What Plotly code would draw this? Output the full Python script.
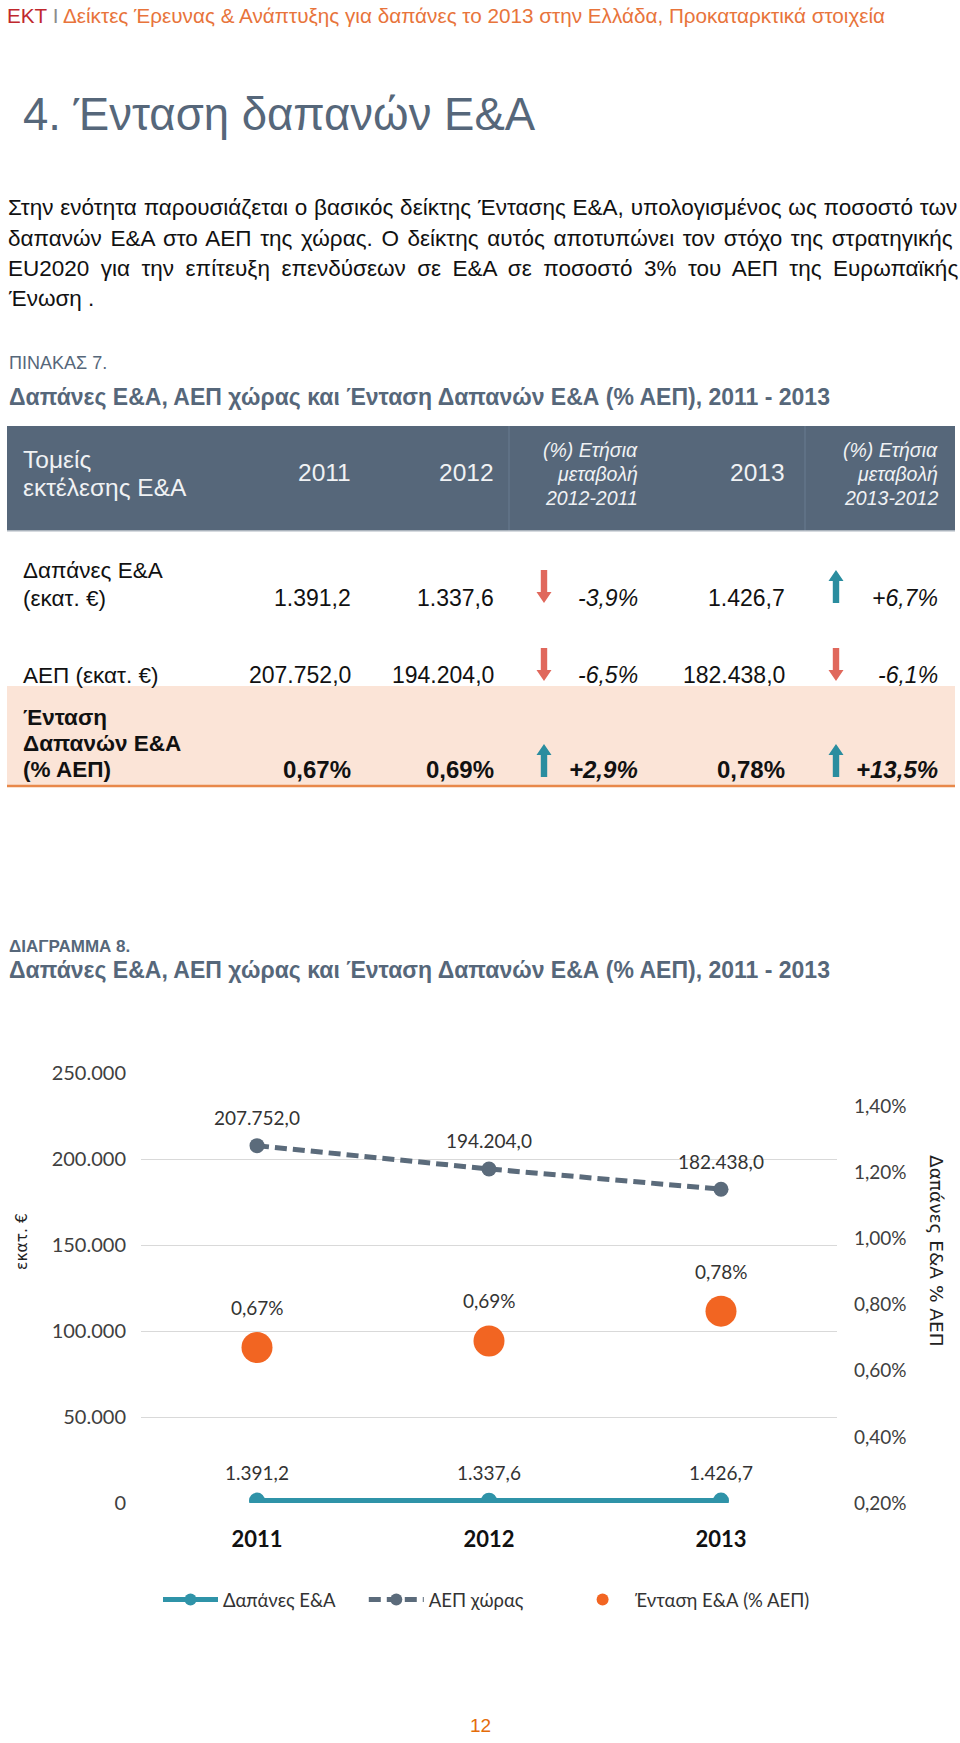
import plotly.graph_objects as go

W, H = 960, 1743

# ---------------- data ----------------
years = ["2011", "2012", "2013"]
rd_spend = [1391.2, 1337.6, 1426.7]          # Δαπάνες Ε&Α (εκατ. €)
gdp = [207752.0, 194204.0, 182438.0]          # ΑΕΠ χώρας (εκατ. €)
intensity = [0.0067, 0.0069, 0.0078]          # Ένταση Ε&Α (% ΑΕΠ)
series_names = ["Δαπάνες Ε&Α", "ΑΕΠ χώρας", "Ένταση Ε&Α (% ΑΕΠ)"]

left_ticks = [0, 50000, 100000, 150000, 200000, 250000]
right_ticks = [0.002, 0.004, 0.006, 0.008, 0.010, 0.012, 0.014]

table_rows = ["Δαπάνες Ε&Α<br>(εκατ. €)", "ΑΕΠ (εκατ. €)", "Ένταση<br>Δαπανών Ε&Α<br>(% ΑΕΠ)"]
col_2011 = ["1.391,2", "207.752,0", "0,67%"]
col_2012 = ["1.337,6", "194.204,0", "0,69%"]
chg_12_11 = ["-3,9%", "-6,5%", "+2,9%"]
col_2013 = ["1.426,7", "182.438,0", "0,78%"]
chg_13_12 = ["+6,7%", "-6,1%", "+13,5%"]

header_cols = ["2011", "2012", "(%) Ετήσια<br>μεταβολή<br>2012-2011", "2013", "(%) Ετήσια<br>μεταβολή<br>2013-2012"]

paragraph = [
    "Στην ενότητα παρουσιάζεται ο βασικός δείκτης Έντασης Ε&Α, υπολογισμένος ως ποσοστό των",
    "δαπανών Ε&Α στο ΑΕΠ της χώρας. Ο δείκτης αυτός αποτυπώνει τον στόχο της στρατηγικής",
    "EU2020 για την επίτευξη επενδύσεων σε Ε&Α σε ποσοστό 3% του ΑΕΠ της Ευρωπαϊκής",
    "Ένωση .",
]
para_word_spacing = [0.6, 2.4, 5.2, 0]   # justification (style)
legend_pad = ["\u2003\u2002", "\u2003\u2003\u2003", ""]  # extra legend spacing (style)

# ---------------- styles ----------------
SLATE = "#56677a"
TEAL = "#2f93a8"
GREY_LINE = "#5b6b7b"
ORANGE = "#f26522"
ARROW_RED = "#e0685c"
ARROW_TEAL = "#2a8d9f"
PEACH = "#fbe4d7"
TXT_FONT = "Liberation Sans, Arial, sans-serif"
CH_FONT = "Lato, Carlito, sans-serif"


def X(px):
    return px / W


def Y(py):
    return 1 - py / H


def gr(v, d=1):
    s = f"{v:,.{d}f}"
    return s.replace(",", "X").replace(".", ",").replace("X", ".")


annotations = []
shapes = []


def txt(text, x, y, size, color="#000", anchor="left", family=TXT_FONT, **kw):
    annotations.append(dict(text=text, x=X(x), y=Y(y), xref="paper", yref="paper",
                            xanchor=anchor, yanchor="middle", showarrow=False,
                            font=dict(size=size, color=color, family=family),
                            align=anchor if anchor != "center" else "center", **kw))


# ---------------- page header & text ----------------
txt("<span style='color:#c0282d'>ΕΚΤ</span> <span style='color:#8c8c8c'>Ι</span> "
    "<span style='color:#e8743b'>Δείκτες Έρευνας & Ανάπτυξης για δαπάνες το 2013 στην Ελλάδα, Προκαταρκτικά στοιχεία</span>",
    5, 16, 20.7)
txt("4. Ένταση δαπανών Ε&Α", 21, 114, 45.5, color=SLATE)

para_y = [208, 238, 268, 298]
for line, py, ws in zip(paragraph, para_y, para_word_spacing):
    t = line if ws == 0 else "<span style='word-spacing:%.1fpx'>%s</span>" % (ws, line)
    txt(t, 6, py, 22.5, color="#111")

txt("ΠΙΝΑΚΑΣ 7.", 7, 363, 18, color=SLATE)
txt("<b>Δαπάνες Ε&Α, ΑΕΠ χώρας και Ένταση Δαπανών Ε&Α (% ΑΕΠ), 2011 - 2013</b>", 7, 397, 23, color=SLATE)

# ---------------- table ----------------
shapes.append(dict(type="rect", xref="paper", yref="paper", x0=X(7), x1=X(955), y0=Y(426), y1=Y(531),
                   fillcolor=SLATE, line=dict(width=0), layer="below"))
for sx in [509, 805]:
    shapes.append(dict(type="line", xref="paper", yref="paper", x0=X(sx), x1=X(sx), y0=Y(426), y1=Y(531),
                       line=dict(color="#63748a", width=1.5)))
shapes.append(dict(type="line", xref="paper", yref="paper", x0=X(7), x1=X(955), y0=Y(531), y1=Y(531),
                   line=dict(color="#c9ced4", width=1.5)))
shapes.append(dict(type="rect", xref="paper", yref="paper", x0=X(7), x1=X(955), y0=Y(686), y1=Y(786),
                   fillcolor=PEACH, line=dict(width=0), layer="below"))
shapes.append(dict(type="line", xref="paper", yref="paper", x0=X(7), x1=X(955), y0=Y(786), y1=Y(786),
                   line=dict(color="#e8884a", width=2.5)))

HDR = "#f0f2f4"
txt("Τομείς", 21, 459, 24.5, color=HDR)
txt("εκτέλεσης Ε&Α", 21, 488, 24.5, color=HDR)
col_right = [353, 496, 640, 787, 940]
for h, xr in zip(header_cols, col_right):
    if "<br>" in h:
        for i, part in enumerate(h.split("<br>")):
            txt("<i>" + part + "</i>", xr, 450 + 24 * i, 19.5, color=HDR, anchor="right")
    else:
        txt(h, xr, 473, 24.5, color=HDR, anchor="right")

row_label_lines = [[570, 598], [675], [717, 744, 770]]
row_val_y = [598, 675, 770]
arrow_y = [(570, 603), (648, 681), (744, 777)]
arrow_x = [544, 836]
for r, label in enumerate(table_rows):
    bold = r == 2
    for part, py in zip(label.split("<br>"), row_label_lines[r]):
        txt(("<b>%s</b>" % part) if bold else part, 21, py, 22.5, color="#111")
    vals = [col_2011[r], col_2012[r], chg_12_11[r], col_2013[r], chg_13_12[r]]
    for ci, (v, xr) in enumerate(zip(vals, col_right)):
        t = v
        if ci in (2, 4):
            t = "<i>%s</i>" % t
        if bold:
            t = "<b>%s</b>" % t
        txt(t, xr, row_val_y[r], 24 if bold else 23, color="#111", anchor="right")
    # arrows for change columns
    for chg, ax in zip([chg_12_11[r], chg_13_12[r]], arrow_x):
        up = chg.startswith("+")
        top, bot = arrow_y[r]
        sw, hw, hh = 3.2, 7.5, 11
        if up:
            pts = [(ax - sw, bot), (ax - sw, top + hh), (ax - hw, top + hh), (ax, top),
                   (ax + hw, top + hh), (ax + sw, top + hh), (ax + sw, bot)]
            col = ARROW_TEAL
        else:
            pts = [(ax - sw, top), (ax - sw, bot - hh), (ax - hw, bot - hh), (ax, bot),
                   (ax + hw, bot - hh), (ax + sw, bot - hh), (ax + sw, top)]
            col = ARROW_RED
        path = "M " + " L ".join("%.5f,%.5f" % (X(px), Y(py)) for px, py in pts) + " Z"
        shapes.append(dict(type="path", xref="paper", yref="paper", path=path,
                           fillcolor=col, line=dict(width=0)))

# ---------------- chart titles ----------------
txt("<b>ΔΙΑΓΡΑΜΜΑ 8.</b>", 7, 947, 17, color=SLATE)
txt("<b>Δαπάνες Ε&Α, ΑΕΠ χώρας και Ένταση Δαπανών Ε&Α (% ΑΕΠ), 2011 - 2013</b>", 7, 970, 23, color=SLATE)

# axis titles
txt("εκατ. €", 22, 1242, 15.5, color="#222", anchor="center", family="DejaVu Sans, sans-serif", textangle=-90)
txt("Δαπάνες Ε&Α % ΑΕΠ", 937, 1251, 18.5, color="#222", anchor="center", family="DejaVu Sans, sans-serif", textangle=90)

# page number
txt("12", 480, 1725, 19, color="#e46c0a", anchor="center")

# ---------------- chart ----------------
fig = go.Figure()
fig.add_trace(go.Scatter(x=years, y=rd_spend, name=series_names[0] + legend_pad[0], mode="lines+markers",
                         line=dict(color=TEAL, width=5), marker=dict(size=16, color=TEAL)))
fig.add_trace(go.Scatter(x=years, y=gdp, name=series_names[1] + legend_pad[1], mode="lines+markers",
                         line=dict(color=GREY_LINE, width=5, dash="12px,6px"),
                         marker=dict(size=15, color=GREY_LINE)))
fig.add_trace(go.Scatter(x=years, y=intensity, name=series_names[2] + legend_pad[2], mode="markers",
                         marker=dict(size=31, color=ORANGE), yaxis="y2"))

# data labels (x given as category index)
LBL = dict(size=19, family=CH_FONT, color="#333")
for i, v in enumerate(rd_spend):
    annotations.append(dict(x=i, y=v, xref="x", yref="y", text=gr(v, 1), showarrow=False,
                            yshift=28, font=LBL))
for i, v in enumerate(gdp):
    annotations.append(dict(x=i, y=v, xref="x", yref="y", text=gr(v, 1), showarrow=False,
                            yshift=28, font=LBL))
for i, v in enumerate(intensity):
    annotations.append(dict(x=i, y=v, xref="x", yref="y2", text=gr(v * 100, 2) + "%", showarrow=False,
                            yshift=40, font=LBL))

fig.update_layout(
    width=W, height=H, autosize=False,
    margin=dict(l=0, r=0, t=0, b=0, pad=0),
    paper_bgcolor="white", plot_bgcolor="white",
    separators=",.",
    showlegend=True,
    xaxis=dict(domain=[X(141), X(837)], type="category", range=[-0.5, 2.5], automargin=False,
               showgrid=False, zeroline=False, showline=False, ticks="", ticklabelstandoff=21,
               tickfont=dict(size=22, family=CH_FONT, color="#111", weight="bold")),
    yaxis=dict(domain=[Y(1503), Y(1073)], range=[0, 250000], tickvals=left_ticks, automargin=False,
               tickformat=",.0f", showgrid=True, gridcolor="#d9d9d9", gridwidth=1.3,
               zeroline=False, showline=False, ticks="", ticklabelstandoff=14,
               tickfont=dict(size=20, family=CH_FONT, color="#404040")),
    yaxis2=dict(overlaying="y", side="right", range=[0.002, 0.015], tickvals=right_ticks,
                automargin=False, tickformat=".2%", showgrid=False, zeroline=False, showline=False,
                ticks="", ticklabelstandoff=16, tickfont=dict(size=19, family=CH_FONT, color="#404040")),
    legend=dict(orientation="h", x=X(158), xanchor="left", y=Y(1600), yanchor="middle",
                font=dict(size=18.5, family=CH_FONT, color="#333"), itemsizing="constant",
                itemwidth=55),
    annotations=annotations,
    shapes=shapes,
)

# remove the browser's default 8px body margin so the page coordinates match
fig.write_html("out.html", config={"displayModeBar": False},
               post_script="document.body.style.margin='0px';")
